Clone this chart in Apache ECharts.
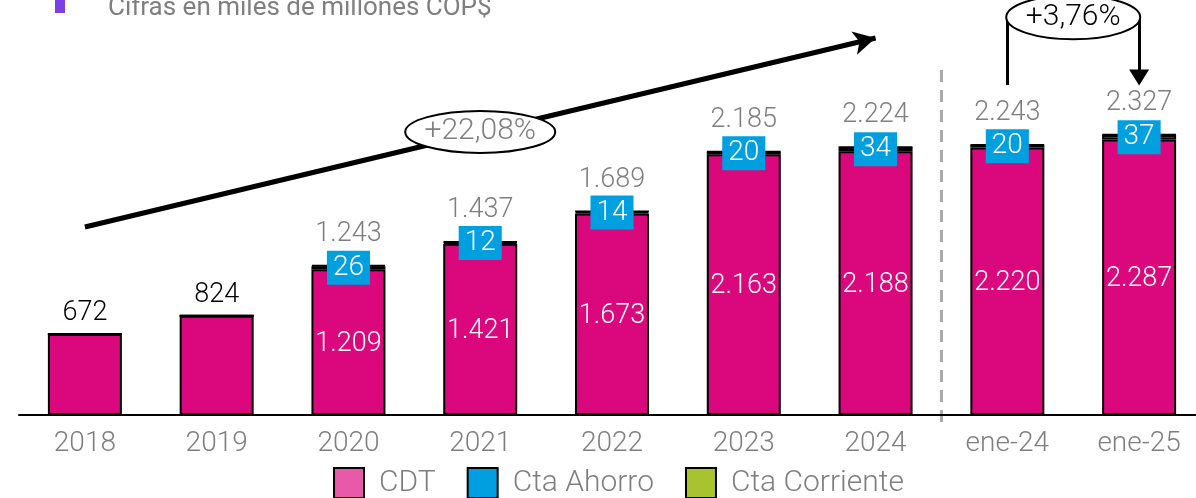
<!DOCTYPE html>
<html><head><meta charset="utf-8">
<script src="https://cdn.jsdelivr.net/npm/echarts@6/dist/echarts.min.js"></script>
<style>html,body{margin:0;padding:0;background:#fff}#c{width:1196px;height:498px}</style>
</head><body><div id="c"></div>
<script>
const categories = ['2018','2019','2020','2021','2022','2023','2024','ene-24','ene-25'];
const cdt = [672, 824, 1209, 1421, 1673, 2163, 2188, 2220, 2287];
const ahorro = [0, 0, 26, 12, 14, 20, 34, 20, 37];
const corriente = [0, 0, 8, 4, 2, 2, 2, 3, 3];
const totals = [672, 824, 1243, 1437, 1689, 2185, 2224, 2243, 2327];
const trendText = '+22,08%';
const yoyText = '+3,76%';
const subtitle = 'Cifras en miles de millones COP$';

const FONT = 'Roboto';
const GRAY = '#7f7f7f';
const fmt = v => String(v).replace(/\B(?=(\d{3})+(?!\d))/g, '.');

const chart = echarts.init(document.getElementById('c'));
const option = {
  animation: false,
  textStyle: { fontFamily: FONT },
  grid: { left: 19, top: 0, width: 1186, height: 415, outerBoundsMode: 'none', containLabel: false },
  xAxis: {
    type: 'category', data: categories,
    axisLine: { lineStyle: { color: '#000', width: 2 } },
    axisTick: { show: false },
    axisLabel: { color: GRAY, fontSize: 28, fontWeight: 300, fontFamily: FONT, margin: 15 }
  },
  yAxis: { type: 'value', min: 0, max: 3444, show: false, splitLine: { show: false } },
  legend: {
    left: 333, top: 467, padding: 0, itemWidth: 30, itemHeight: 30, itemGap: 31,
    icon: 'rect',
    textStyle: { color: GRAY, fontSize: 30, fontWeight: 300, fontFamily: FONT, padding: [0, 0, 0, 10] },
    data: [
      { name: 'CDT', itemStyle: { color: '#E85AA9', borderColor: '#000', borderWidth: 2 } },
      { name: 'Cta Ahorro', itemStyle: { color: '#009FDF', borderColor: '#000', borderWidth: 2 } },
      { name: 'Cta Corriente', itemStyle: { color: '#A9C22F', borderColor: '#000', borderWidth: 2 } }
    ]
  },
  series: [
    {
      name: 'CDT', type: 'bar', stack: 't', barWidth: 74,
      itemStyle: { color: '#DB077C', borderColor: '#000', borderWidth: 2 },
      data: cdt.map((v, i) => ({
        value: v,
        label: { show: i >= 2, position: 'inside', offset: [0, 2], color: '#fff', fontSize: 27, fontWeight: 300, fontFamily: FONT, formatter: p => fmt(p.value) }
      })),
      markLine: {
        silent: true, animation: false,
        label: { show: false },
        lineStyle: { color: '#000', width: 5, type: 'solid' },
        data: [
          [ { coord: ['2018', 1560], symbol: 'none' },
            { coord: ['2024', 3129], symbol: 'arrow', symbolSize: [18, 22] } ],
          [ { coord: ['ene-24', 2739], symbol: 'none', lineStyle: { width: 3 } },
            { coord: ['ene-24', 3300], symbol: 'none' } ],
          [ { coord: ['ene-25', 3300], symbol: 'none', lineStyle: { width: 3 } },
            { coord: ['ene-25', 2800], symbol: 'triangle', symbolSize: [20, 16], symbolRotate: 180 } ]
        ]
      }
    },
    {
      name: 'Cta Ahorro', type: 'bar', stack: 't', barWidth: 74,
      itemStyle: { color: '#009FDF', borderColor: '#000', borderWidth: 2 },
      data: ahorro.map(v => ({
        value: v,
        label: { show: v > 0, position: 'inside', color: '#fff', backgroundColor: '#009FDF',
          padding: [3, 6, 2, 6], fontSize: 28, lineHeight: 29, fontWeight: 300, fontFamily: FONT }
      }))
    },
    {
      name: 'Cta Corriente', type: 'bar', stack: 't', barWidth: 74,
      itemStyle: { color: '#A9C22F', borderColor: '#000', borderWidth: 2 },
      data: corriente.map((v, i) => ({
        value: v,
        label: {
          show: true, position: 'top',
          distance: ahorro[i] > 0 ? 17 : 6,
          color: ahorro[i] > 0 ? GRAY : '#000',
          fontSize: 27, fontWeight: 300, fontFamily: FONT,
          formatter: () => fmt(totals[i])
        }
      }))
    }
  ]
};
chart.setOption(option);

const p = (c, v) => chart.convertToPixel({ gridIndex: 0 }, [c, v]);
const e1 = p('2021', 2349);
const a = p('ene-24', 3300), b = p('ene-25', 3300);
const x24 = p('2024', 0)[0], xe24 = p('ene-24', 0)[0];
const dashX = (x24 + xe24) / 2;
chart.setOption({
  graphic: [
    { type: 'rect', shape: { x: 55, y: 0, width: 10, height: 13 }, style: { fill: '#7B3FE4' } },
    { type: 'text', x: 108, y: 8, style: { text: subtitle, fill: GRAY, font: '26px Roboto', verticalAlign: 'middle' } },
    { type: 'line', shape: { x1: dashX, y1: 70, x2: dashX, y2: 422 }, style: { stroke: '#aaaaaa', lineWidth: 3, lineDash: [12, 8] } },
    { type: 'ellipse', shape: { cx: e1[0], cy: e1[1], rx: 75, ry: 21 }, style: { fill: '#fff', stroke: '#000', lineWidth: 2 }, z: 100 },
    { type: 'text', x: e1[0], y: e1[1], z: 101, style: { text: trendText, fill: GRAY, font: '300 30px Roboto', align: 'center', verticalAlign: 'middle' } },
    { type: 'ellipse', shape: { cx: (a[0] + b[0]) / 2, cy: a[1], rx: 67, ry: 22 }, style: { fill: '#fff', stroke: '#000', lineWidth: 2 }, z: 100 },
    { type: 'text', x: (a[0] + b[0]) / 2, y: a[1], z: 101, style: { text: yoyText, fill: '#000', font: '300 30px Roboto', align: 'center', verticalAlign: 'middle' } }
  ]
});
</script></body></html>
